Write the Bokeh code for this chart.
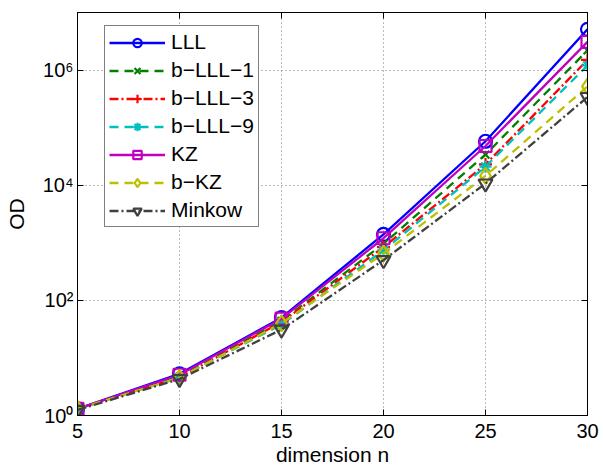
from bokeh.plotting import figure
from bokeh.models import (LinearAxis, LogAxis, FixedTicker, Legend, LegendItem,
                          Range1d)
from bokeh.embed import file_html
from bokeh.resources import INLINE

# ---- data ----
dims = [5, 10, 15, 20, 25, 30]
od_lll = [1.3, 5.3, 50, 1400, 58000, 5.1e6]
od_blll1 = [1.3, 4.7, 44, 960, 34000, 2.2e6]
od_blll3 = [1.3, 4.6, 42, 840, 23000, 1.5e6]
od_blll9 = [1.3, 4.6, 38, 740, 21000, 1.2e6]
od_kz = [1.3, 5.1, 48, 1200, 48000, 3.1e6]
od_bkz = [1.3, 4.5, 40, 650, 14500, 5.2e5]
od_mink = [1.25, 4.3, 31, 500, 10700, 3.4e5]

series_names = ["LLL", "b\u2212LLL\u22121", "b\u2212LLL\u22123", "b\u2212LLL\u22129",
                "KZ", "b\u2212KZ", "Minkow"]
x_ticks = [5, 10, 15, 20, 25, 30]
y_ticks = [1, 100, 10000, 1000000]
y_tick_labels = ["10\u2070", "10\u00b2", "10\u2074", "10\u2076"]

FONT = "Liberation Sans"
FS = "20px"

p = figure(width=603, height=468, y_axis_type="log",
           x_range=Range1d(5, 30), y_range=Range1d(1, 1e7),
           output_backend="svg", toolbar_location=None,
           min_border_left=77, min_border_right=16, min_border_top=12,
           min_border_bottom=50)
p.background_fill_color = "white"
p.border_fill_color = "white"
p.outline_line_color = "black"
p.outline_line_width = 1

# axes
xa = p.xaxis[0]
ya = p.yaxis[0]
xa.ticker = FixedTicker(ticks=x_ticks)
ya.ticker = FixedTicker(ticks=y_ticks)
ya.major_label_overrides = {t: l for t, l in zip(y_ticks, y_tick_labels)}
for ax in (xa, ya):
    ax.major_tick_in = 6
    ax.major_tick_out = 0
    ax.minor_tick_in = 0
    ax.minor_tick_out = 0
    ax.axis_line_color = "black"
    ax.major_tick_line_color = "black"
    ax.major_label_text_font = FONT
    ax.major_label_text_font_size = FS
    ax.major_label_text_color = "black"
    ax.axis_label_text_font = FONT
    ax.axis_label_text_font_size = "21px"
    ax.axis_label_text_font_style = "normal"
    ax.axis_label_text_color = "black"
xa.axis_label = "dimension n"
ya.axis_label = "OD"
xa.major_label_standoff = 8
xa.axis_label_standoff = 2
ya.major_label_standoff = 4
ya.axis_label_standoff = 12

# box ticks on top and right (no labels)
top = LinearAxis(ticker=FixedTicker(ticks=x_ticks), major_label_text_alpha=0,
                 major_label_text_font_size="8px",
                 major_tick_in=6, major_tick_out=0, minor_tick_in=0, minor_tick_out=0,
                 major_label_standoff=0)
right = LogAxis(ticker=FixedTicker(ticks=y_ticks), major_label_text_alpha=0,
                major_label_text_font_size="8px",
                major_tick_in=6, major_tick_out=0, minor_tick_in=0, minor_tick_out=0,
                major_label_standoff=0)
p.add_layout(top, "above")
p.add_layout(right, "right")

# grid
p.xgrid.ticker = FixedTicker(ticks=x_ticks)
p.ygrid.ticker = FixedTicker(ticks=y_ticks)
for g in (p.xgrid[0], p.ygrid[0]):
    g.grid_line_color = "#777777"
    g.grid_line_dash = "1 3"
    g.grid_line_width = 1

specs = [
    (od_lll, "#0000ff", "solid", "circle", 13),
    (od_blll1, "#008000", "9 6", "x", 11),
    (od_blll3, "#ff0000", "9 3 2 3", "cross", 13),
    (od_blll9, "#00bfbf", "9 6", "asterisk", 12),
    (od_kz, "#bf00bf", "solid", "square", 12),
    (od_bkz, "#bfbf00", "9 6", "diamond", 16),
    (od_mink, "#404040", "9 3 2 3", "inverted_triangle", 14),
]

items = []
for name, (vals, color, dash, marker, size) in zip(series_names, specs):
    ln = p.line(dims, vals, line_color=color, line_width=2.3, line_dash=dash)
    sc = p.scatter(dims, vals, marker=marker, size=size, line_color=color,
                   line_width=2.2, fill_alpha=0)
    items.append(LegendItem(label=name, renderers=[ln, sc]))

legend = Legend(items=items, location=(27, 188), orientation="vertical",
                glyph_width=56, glyph_height=21, label_height=21,
                spacing=4, padding=4, margin=0, label_standoff=6,
                label_text_font=FONT, label_text_font_size="21px",
                label_text_color="black",
                border_line_color="black", border_line_width=1.5,
                background_fill_color="white", background_fill_alpha=1)
p.add_layout(legend, "center")

open("out.html", "w").write(file_html(p, INLINE))
